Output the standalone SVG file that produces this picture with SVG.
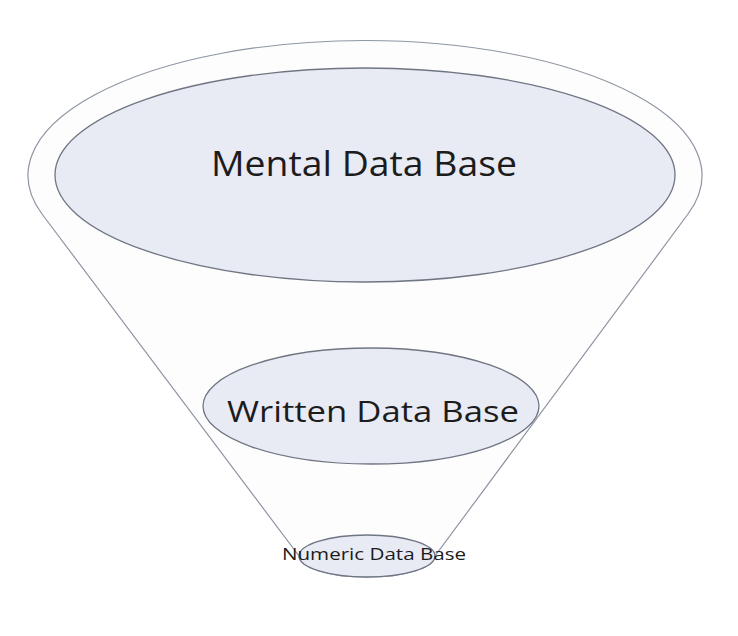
<svg xmlns="http://www.w3.org/2000/svg" width="738" height="636" viewBox="0 0 738 636">
<style>
.funnel{fill:#fdfdfe;stroke:#8e96a2;stroke-width:1.2}
.db{fill:#e8eaf4;stroke:#6f7682;stroke-width:1.3}
.lbl{font-family:"Open Sans","Liberation Sans",sans-serif;fill:#1c1c1c;text-anchor:middle}
</style>
<rect width="738" height="636" fill="#ffffff"/>
<g id="connectors">
<path class="funnel" d="M42,214 A337,135 0 1 1 688,214 L435,556 A68,21 0 0 1 299,556 Z"/>
</g>
<g id="mental">
<ellipse class="db" cx="365" cy="175" rx="310" ry="107"/>
<text class="lbl" x="364" y="176" font-size="34" textLength="306" lengthAdjust="spacingAndGlyphs">Mental Data Base</text>
</g>
<g id="written">
<ellipse class="db" cx="371" cy="406" rx="168" ry="58"/>
<text class="lbl" x="373" y="422" font-size="30" textLength="292" lengthAdjust="spacingAndGlyphs">Written Data Base</text>
</g>
<g id="numeric">
<ellipse class="db" cx="367" cy="556" rx="68" ry="21"/>
<text class="lbl" x="374" y="560" font-size="16" textLength="184" lengthAdjust="spacingAndGlyphs">Numeric Data Base</text>
</g>
</svg>
